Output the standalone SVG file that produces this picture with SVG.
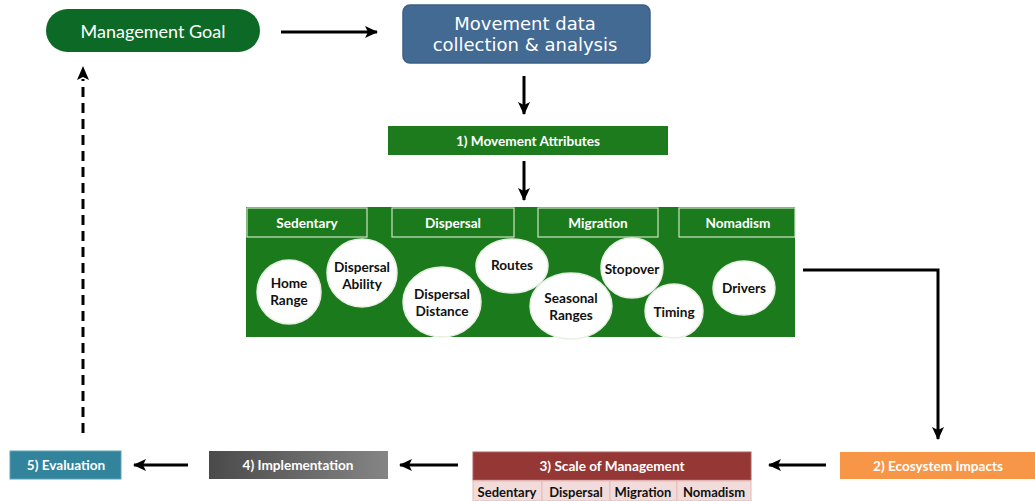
<svg xmlns="http://www.w3.org/2000/svg" width="1035" height="501" viewBox="0 0 1035 501">
<defs>
<marker id="ah" markerUnits="userSpaceOnUse" markerWidth="14" markerHeight="12" refX="12" refY="6" orient="auto">
<path d="M0,0 L13,6 L0,12 L3,6 Z" fill="#000"/>
</marker>
<linearGradient id="gray" x1="0" y1="0" x2="1" y2="0">
<stop offset="0" stop-color="#4a4a4a"/>
<stop offset="1" stop-color="#858585"/>
</linearGradient>
<style>
.lbl{font-family:Lato,"Open Sans","Liberation Sans",sans-serif;font-weight:bold;font-size:13.6px;text-anchor:middle;dominant-baseline:central}
.w{fill:#fff}
.k{fill:#111}
.tab{fill:#1b7a1b;stroke:#cfe3c6;stroke-width:1.2}
.circ{fill:#fff;stroke:#e8f0e4;stroke-width:1.5}
.conn{stroke:#000;stroke-width:3;fill:none}
.cell{fill:#f2dcdb;stroke:#e6b9b8;stroke-width:1}
.mv{font-family:"DejaVu Sans",Verdana,sans-serif;font-size:18px;text-anchor:middle;dominant-baseline:central;fill:#fff}
</style>
</defs>

<g id="connectors">
<line class="conn" x1="281" y1="32" x2="377" y2="32" marker-end="url(#ah)"/>
<line class="conn" x1="524" y1="76" x2="524" y2="114" marker-end="url(#ah)"/>
<line class="conn" x1="524" y1="161" x2="524" y2="200" marker-end="url(#ah)"/>
<polyline class="conn" points="803,270 938,270 938,439" marker-end="url(#ah)"/>
<line class="conn" x1="826" y1="465" x2="769" y2="465" marker-end="url(#ah)"/>
<line class="conn" x1="458" y1="465" x2="400" y2="465" marker-end="url(#ah)"/>
<line class="conn" x1="188" y1="465" x2="134" y2="465" marker-end="url(#ah)"/>
<line class="conn" x1="83" y1="433" x2="83" y2="79" stroke-dasharray="10,6"/>
<path d="M77,80 L83,66 L89,80 L83,77 Z" fill="#000"/>
</g>

<g id="management-goal">
<rect x="46" y="9" width="214" height="43" rx="21.5" fill="#0d6a26"/>
<text x="153" y="31" class="lbl w" style="font-weight:normal;font-size:18px">Management Goal</text>
</g>

<g id="movement-data">
<rect x="403" y="5" width="247" height="58" rx="7" fill="#436a92" stroke="#3c5f85" stroke-width="1.5"/>
<text x="525" y="23" class="mv">Movement data</text>
<text x="525" y="44" class="mv">collection &amp; analysis</text>
</g>

<g id="movement-attributes">
<rect x="388" y="126" width="280" height="29" fill="#1d7b1d"/>
<text x="528" y="141" class="lbl w">1) Movement Attributes</text>
</g>

<g id="attributes-panel">
<rect x="246" y="207" width="549" height="130" fill="#1b7a1b"/>
<rect class="tab" x="247" y="208" width="120" height="29"/>
<rect class="tab" x="392" y="208" width="122" height="29"/>
<rect class="tab" x="538" y="208" width="120" height="29"/>
<rect class="tab" x="679" y="208" width="116" height="29"/>
<text x="307" y="223" class="lbl w">Sedentary</text>
<text x="453" y="223" class="lbl w">Dispersal</text>
<text x="598" y="223" class="lbl w">Migration</text>
<text x="738" y="223" class="lbl w">Nomadism</text>
</g>

<g id="home-range">
<ellipse class="circ" cx="289" cy="292" rx="32" ry="32"/>
<text x="289" y="283" class="lbl k">Home</text>
<text x="289" y="300" class="lbl k">Range</text>
</g>
<g id="dispersal-ability">
<ellipse class="circ" cx="362" cy="273" rx="35" ry="34"/>
<text x="362" y="267" class="lbl k">Dispersal</text>
<text x="362" y="284" class="lbl k">Ability</text>
</g>
<g id="dispersal-distance">
<ellipse class="circ" cx="442" cy="302" rx="39" ry="35"/>
<text x="442" y="294" class="lbl k">Dispersal</text>
<text x="442" y="311" class="lbl k">Distance</text>
</g>
<g id="routes">
<ellipse class="circ" cx="512" cy="266" rx="36" ry="27"/>
<text x="512" y="265" class="lbl k">Routes</text>
</g>
<g id="seasonal-ranges">
<ellipse class="circ" cx="571" cy="306" rx="41" ry="33"/>
<text x="571" y="298" class="lbl k">Seasonal</text>
<text x="571" y="315" class="lbl k">Ranges</text>
</g>
<g id="stopover">
<ellipse class="circ" cx="632" cy="268" rx="31" ry="30"/>
<text x="632" y="269" class="lbl k">Stopover</text>
</g>
<g id="timing">
<ellipse class="circ" cx="674" cy="311" rx="29" ry="27"/>
<text x="674" y="312" class="lbl k">Timing</text>
</g>
<g id="drivers">
<ellipse class="circ" cx="744" cy="288" rx="31" ry="27"/>
<text x="744" y="288" class="lbl k">Drivers</text>
</g>

<g id="ecosystem-impacts">
<rect x="840" y="452" width="195" height="27" fill="#f79646"/>
<text x="938" y="466" class="lbl w">2) Ecosystem Impacts</text>
</g>

<g id="scale-of-management">
<rect x="473" y="452" width="278" height="28" fill="#953735" stroke="#b0615f" stroke-width="1"/>
<text x="612" y="466" class="lbl w">3) Scale of Management</text>
<rect class="cell" x="473" y="481" width="69" height="20"/>
<rect class="cell" x="542" y="481" width="68" height="20"/>
<rect class="cell" x="610" y="481" width="67" height="20"/>
<rect class="cell" x="677" y="481" width="74" height="20"/>
<text x="507" y="492" class="lbl k" style="font-size:13px">Sedentary</text>
<text x="576" y="492" class="lbl k" style="font-size:13px">Dispersal</text>
<text x="643" y="492" class="lbl k" style="font-size:13px">Migration</text>
<text x="714" y="492" class="lbl k" style="font-size:13px">Nomadism</text>
</g>

<g id="implementation">
<rect x="209" y="451" width="179" height="28" fill="url(#gray)"/>
<text x="298" y="465" class="lbl w">4) Implementation</text>
</g>

<g id="evaluation">
<rect x="10" y="451" width="111" height="28" fill="#31849b" stroke="#5fa3b6" stroke-width="1"/>
<text x="66" y="465" class="lbl w">5) Evaluation</text>
</g>
</svg>
